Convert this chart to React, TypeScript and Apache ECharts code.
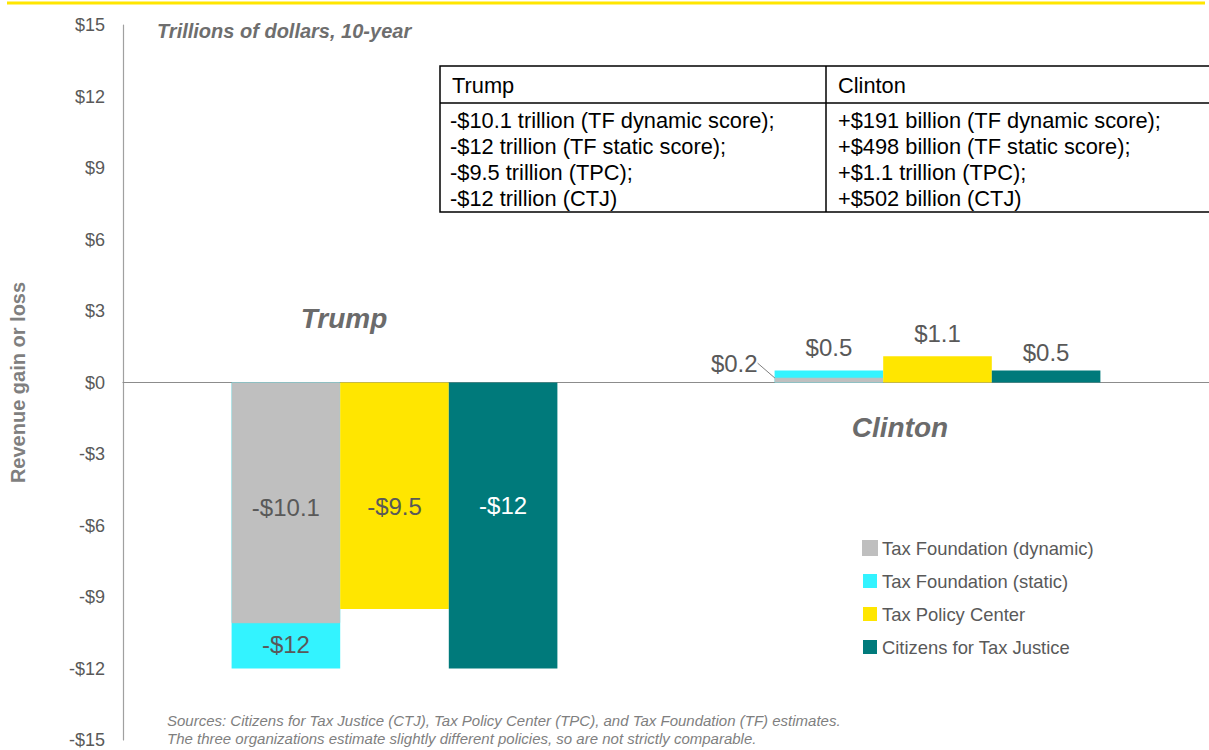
import React, { useEffect, useRef } from "react";
import * as echarts from "echarts";

const groups = ["Trump", "Clinton"];
const seriesNames = [
  "Tax Foundation (dynamic)",
  "Tax Foundation (static)",
  "Tax Policy Center",
  "Citizens for Tax Justice",
];
const tfDynamic = [-10.1, 0.2];
const tfStatic = [-12, 0.5];
const tpc = [-9.5, 1.1];
const ctj = [-12, 0.5];

const yMin = -15;
const yMax = 15;
const yInterval = 3;

const tableHeaders = ["Trump", "Clinton"];
const trumpRows = [
  "-$10.1 trillion (TF dynamic score);",
  "-$12 trillion (TF static score);",
  "-$9.5 trillion (TPC);",
  "-$12 trillion (CTJ)",
];
const clintonRows = [
  "+$191 billion (TF dynamic score);",
  "+$498 billion (TF static score);",
  "+$1.1 trillion (TPC);",
  "+$502 billion (CTJ)",
];
const titleText = "Trillions of dollars, 10-year";
const yAxisName = "Revenue gain or loss";
const sourceLines = [
  "Sources: Citizens for Tax Justice (CTJ), Tax Policy Center (TPC), and Tax Foundation (TF) estimates.",
  "The three organizations estimate slightly different policies, so are not strictly comparable.",
];

const FONT = "'Liberation Sans', Arial, sans-serif";
const C_GRAY = "#BFBFBF";
const C_CYAN = "#33F3FF";
const C_YELLOW = "#FFE600";
const C_TEAL = "#007A7B";
const C_TEXT = "#595959";

const fmt = (v: number) => (v < 0 ? "-$" + Math.abs(v) : "$" + v);

const baseLabel = {
  show: true,
  fontFamily: FONT,
  fontSize: 24,
  color: C_TEXT,
  formatter: (p: any) => fmt(p.value),
};

export default function App() {
  const ref = useRef<HTMLDivElement>(null);

  useEffect(() => {
    if (!ref.current) return;
    const chart = echarts.init(ref.current, undefined, { renderer: "svg" });

    const tableX = 440;
    const tableY = 66;
    const tableW = 780;
    const tableH = 146;
    const headerH = 37;
    const colX = 826;
    const rowY0 = 120;
    const rowStep = 26.3;
    const tableFont = `21.8px ${FONT}`;

    const tableGraphics: any[] = [
      {
        type: "rect",
        shape: { x: tableX, y: tableY, width: tableW, height: tableH },
        style: { fill: "#fff", stroke: "#000", lineWidth: 1.5 },
        z: 10,
      },
      {
        type: "line",
        shape: { x1: tableX, y1: tableY + headerH, x2: 1209, y2: tableY + headerH },
        style: { stroke: "#000", lineWidth: 1.5 },
        z: 11,
      },
      {
        type: "line",
        shape: { x1: colX, y1: tableY, x2: colX, y2: tableY + tableH },
        style: { stroke: "#000", lineWidth: 1.5 },
        z: 11,
      },
      {
        type: "text",
        x: tableX + 12,
        y: tableY + headerH / 2 + 1,
        style: { text: tableHeaders[0], font: tableFont, fill: "#000", textVerticalAlign: "middle" },
        z: 12,
      },
      {
        type: "text",
        x: colX + 12,
        y: tableY + headerH / 2 + 1,
        style: { text: tableHeaders[1], font: tableFont, fill: "#000", textVerticalAlign: "middle" },
        z: 12,
      },
      ...trumpRows.map((t, i) => ({
        type: "text",
        x: tableX + 10,
        y: rowY0 + i * rowStep,
        style: { text: t, font: tableFont, fill: "#000", textVerticalAlign: "middle" },
        z: 12,
      })),
      ...clintonRows.map((t, i) => ({
        type: "text",
        x: colX + 12,
        y: rowY0 + i * rowStep,
        style: { text: t, font: tableFont, fill: "#000", textVerticalAlign: "middle" },
        z: 12,
      })),
    ];

    const option: any = {
      animation: false,
      grid: { left: 120, right: 0, top: 25, bottom: 10, containLabel: false },
      legend: {
        data: seriesNames,
        orient: "vertical",
        left: 857,
        top: 534,
        itemWidth: 14,
        itemHeight: 14,
        itemGap: 15,
        icon: "rect",
        textStyle: { fontFamily: FONT, fontSize: 18.4, color: C_TEXT },
      },
      xAxis: [
        {
          type: "category",
          data: groups,
          axisLine: { show: true, onZero: true, lineStyle: { color: "#8c8c8c", width: 1.2 } },
          axisTick: { show: false },
          axisLabel: { show: false },
          splitLine: { show: false },
        },
        {
          type: "category",
          data: groups,
          show: false,
        },
      ],
      yAxis: {
        type: "value",
        min: yMin,
        max: yMax,
        interval: yInterval,
        axisLine: { show: true, lineStyle: { color: "#a0a0a0", width: 1.2 } },
        axisTick: { show: false },
        splitLine: { show: false },
        axisLabel: {
          formatter: (v: number) => fmt(v),
          fontFamily: FONT,
          fontSize: 18,
          color: C_TEXT,
          margin: 18,
        },
        name: yAxisName,
        nameLocation: "middle",
        nameGap: 95,
        nameTextStyle: { fontFamily: FONT, fontSize: 20, fontWeight: "bold", color: "#7f7f7f" },
      },
      series: [
        {
          name: seriesNames[1],
          type: "bar",
          xAxisIndex: 1,
          z: 2,
          barGap: 0,
          barCategoryGap: "40%",
          itemStyle: { color: C_CYAN },
          data: tfStatic.map((v, i) => ({
            value: v,
            label:
              i === 0
                ? { ...baseLabel, position: "inside", offset: [0, 119] }
                : { ...baseLabel, position: "top", distance: 11 },
          })),
        },
        {
          type: "bar",
          xAxisIndex: 1,
          barGap: 0,
          barCategoryGap: "40%",
          data: ["-", "-"],
        },
        {
          type: "bar",
          xAxisIndex: 1,
          barGap: 0,
          barCategoryGap: "40%",
          data: ["-", "-"],
        },
        {
          name: seriesNames[0],
          type: "bar",
          xAxisIndex: 0,
          z: 3,
          barGap: 0,
          barCategoryGap: "40%",
          itemStyle: { color: C_GRAY, borderColor: C_GRAY, borderWidth: 1 },
          labelLine: { show: true, lineStyle: { color: "#7f7f7f", width: 1 } },
          labelLayout: (p: any) => (p.dataIndex === 1 ? { dx: -12, dy: -17 } : { dy: 5 }),
          data: tfDynamic.map((v, i) => ({
            value: v,
            label:
              i === 0
                ? { ...baseLabel, position: "inside" }
                : { ...baseLabel, position: "left", distance: 5 },
            labelLine: { show: i === 1 },
          })),
        },
        {
          name: seriesNames[2],
          type: "bar",
          xAxisIndex: 0,
          z: 3,
          barGap: 0,
          barCategoryGap: "40%",
          itemStyle: { color: C_YELLOW },
          data: tpc.map((v, i) => ({
            value: v,
            label:
              i === 0
                ? { ...baseLabel, position: "inside", offset: [0, 11] }
                : { ...baseLabel, position: "top", distance: 11 },
          })),
        },
        {
          name: seriesNames[3],
          type: "bar",
          xAxisIndex: 0,
          z: 3,
          barGap: 0,
          barCategoryGap: "40%",
          itemStyle: { color: C_TEAL },
          data: ctj.map((v, i) => ({
            value: v,
            label:
              i === 0
                ? { ...baseLabel, position: "inside", offset: [0, -20], color: "#ffffff" }
                : { ...baseLabel, position: "top", distance: 6 },
          })),
        },
      ],
      graphic: [
        {
          type: "line",
          shape: { x1: 7, y1: 3, x2: 1205, y2: 3 },
          style: { stroke: C_YELLOW, lineWidth: 3 },
        },
        {
          type: "text",
          x: 157,
          y: 31,
          style: {
            text: titleText,
            font: `italic bold 20px ${FONT}`,
            fill: "#6e6e6e",
            textVerticalAlign: "middle",
          },
        },
        {
          type: "text",
          x: 344,
          y: 318,
          style: {
            text: groups[0],
            font: `italic bold 28px ${FONT}`,
            fill: "#6b6b6b",
            textAlign: "center",
            textVerticalAlign: "middle",
          },
        },
        {
          type: "text",
          x: 900,
          y: 427,
          style: {
            text: groups[1],
            font: `italic bold 28px ${FONT}`,
            fill: "#6b6b6b",
            textAlign: "center",
            textVerticalAlign: "middle",
          },
        },
        ...tableGraphics,
        ...sourceLines.map((t, i) => ({
          type: "text",
          x: 167,
          y: 720 + i * 18,
          style: {
            text: t,
            font: `italic 15px ${FONT}`,
            fill: "#7f7f7f",
            textVerticalAlign: "middle",
          },
        })),
      ],
    };

    chart.setOption(option);
    return () => chart.dispose();
  }, []);

  return (
    <div
      ref={ref}
      style={{ position: "absolute", left: 0, top: 0, width: 1209, height: 750 }}
    />
  );
}
